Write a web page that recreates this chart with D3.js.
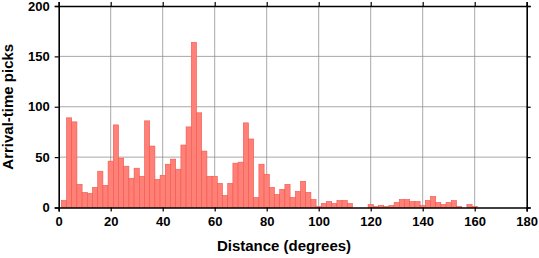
<!DOCTYPE html>
<html>
<head>
<meta charset="utf-8">
<script src="https://cdn.jsdelivr.net/npm/d3@7"></script>
<style>
  body { margin: 0; background: #fff; }
  text { font-family: "Liberation Sans", Arial, sans-serif; font-weight: bold; }
</style>
</head>
<body>
<svg width="539" height="258"></svg>
<script>
// bin centres (degrees), 2-degree wide bins
const centers = d3.range(2, 162, 2);
const picks = [7, 89, 85, 23, 15, 14, 20, 36, 22, 46,
               82, 49, 41, 29, 39, 31, 86, 61, 28, 32,
               43, 48, 38, 62, 80, 164, 94, 56, 31, 31,
               24, 12, 24, 44, 45, 84, 68, 10, 43, 33,
               20, 13, 18, 23, 10, 16, 26, 15, 8, 1,
               4, 6, 4, 7, 7, 4, 0, 0, 0, 3,
               1, 2, 1, 2, 5, 8, 8, 6, 6, 2,
               7, 11, 5, 3, 5, 7, 1, 0, 3, 1];
const xTicks = [0, 20, 40, 60, 80, 100, 120, 140, 160, 180];
const yTicks = [0, 50, 100, 150, 200];

const svg = d3.select("svg");
const x = d3.scaleLinear().domain([0, 180]).range([58.7, 526.7]);
const y = d3.scaleLinear().domain([0, 200]).range([207.5, 6]);

const data = centers.map((c, i) => ({c: c, v: picks[i]}));

// grid
const grid = svg.append("g").attr("stroke", "#929292").attr("stroke-width", 0.8);
grid.selectAll(".gx").data(xTicks.slice(1, -1)).enter().append("line")
    .attr("x1", d => x(d)).attr("x2", d => x(d))
    .attr("y1", y(0)).attr("y2", y(200));
grid.selectAll(".gy").data(yTicks.slice(1, -1)).enter().append("line")
    .attr("x1", x(0)).attr("x2", x(180))
    .attr("y1", d => y(d)).attr("y2", d => y(d));

// bars
svg.append("g").selectAll("rect")
    .data(data.filter(d => d.v > 0))
    .enter().append("rect")
    .attr("x", d => x(d.c - 1))
    .attr("width", d => x(d.c + 1) - x(d.c - 1))
    .attr("y", d => y(d.v))
    .attr("height", d => y(0) - y(d.v))
    .attr("fill", "#ff8076")
    .attr("stroke", "#f2564e")
    .attr("stroke-width", 0.6);

// axes with outward ticks on all four sides
const fmt = d3.format("d");
svg.append("g").attr("transform", `translate(0,${y(0)})`)
    .call(d3.axisBottom(x).tickValues(xTicks).tickFormat(fmt).tickSize(4).tickPadding(5));
svg.append("g").attr("transform", `translate(0,${y(200)})`)
    .call(d3.axisTop(x).tickValues(xTicks).tickFormat("").tickSize(4));
svg.append("g").attr("transform", `translate(${x(0)},0)`)
    .call(d3.axisLeft(y).tickValues(yTicks).tickFormat(fmt).tickSize(4).tickPadding(5));
svg.append("g").attr("transform", `translate(${x(180)},0)`)
    .call(d3.axisRight(y).tickValues(yTicks).tickFormat("").tickSize(4));

svg.selectAll(".domain").attr("stroke", "#000").attr("stroke-width", 1.6);
svg.selectAll(".tick line").attr("stroke", "#000").attr("stroke-width", 1.2);
svg.selectAll(".tick text")
    .attr("fill", "#000")
    .style("font-size", "13px")
    .style("font-family", "Liberation Sans, Arial, sans-serif")
    .style("font-weight", "bold");

// titles
svg.append("text")
    .attr("x", 284).attr("y", 251)
    .attr("text-anchor", "middle")
    .style("font-size", "15px")
    .text("Distance (degrees)");
svg.append("text")
    .attr("transform", `translate(13,${(y(0) + y(200)) / 2}) rotate(-90)`)
    .attr("text-anchor", "middle")
    .style("font-size", "15px")
    .text("Arrival-time picks");
</script>
</body>
</html>
